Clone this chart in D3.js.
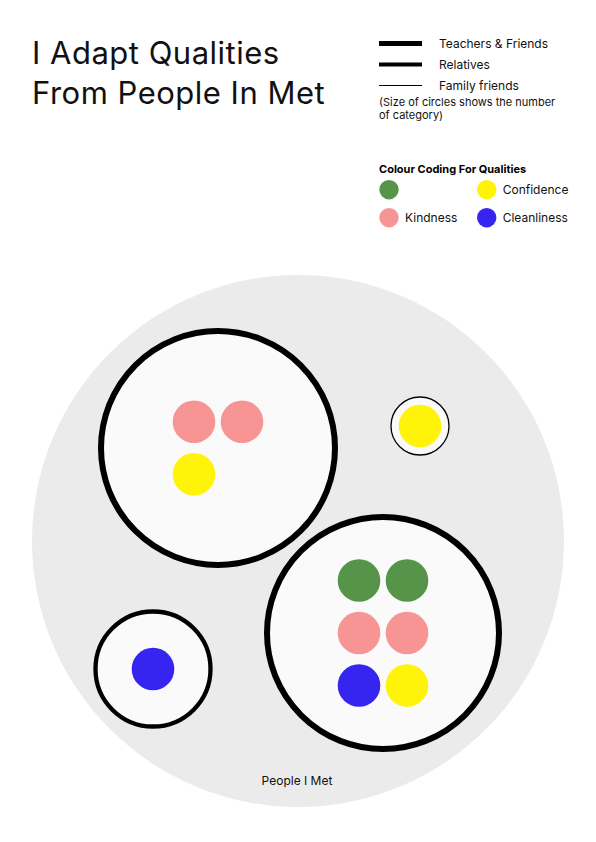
<!DOCTYPE html>
<html>
<head>
<meta charset="utf-8">
<script src="https://cdn.jsdelivr.net/npm/d3@7"></script>
<style>
  html, body { margin: 0; padding: 0; background: #ffffff; }
  svg { display: block; font-family: Inter, "Noto Sans", sans-serif; }
</style>
</head>
<body>
<svg id="chart" width="596" height="842"></svg>
<script>
// ---------- DATA ----------
const titleLines = ["I Adapt Qualities", "From People In Met"];
const categories = ["Teachers & Friends", "Relatives", "Family friends"];
const qualities = ["Unlabelled", "Confidence", "Kindness", "Cleanliness"];
const qualityLabels = ["", "Confidence", "Kindness", "Cleanliness"];
const groupCategory = ["Teachers & Friends", "Teachers & Friends", "Family friends", "Relatives"];
const groupQualities = [
  ["Kindness", "Kindness", "Confidence"],
  ["Unlabelled", "Unlabelled", "Kindness", "Kindness", "Cleanliness", "Confidence"],
  ["Confidence"],
  ["Cleanliness"]
];
const noteLines = ["(Size of circles shows the number", "of category)"];
const colourTitle = "Colour Coding For Qualities";
const outerLabel = "People I Met";

// ---------- LAYOUT / STYLE (kept separate from data) ----------
const outer = { cx: 298, cy: 541, r: 266 };
const groupPos = [[-80, -93], [85, 92], [122, -115], [-145, 128]];
const groupR = [117, 116, 29, 57.5];
const catStroke = d3.scaleOrdinal().domain(categories).range([6, 4.3, 1.3]);
const legendStroke = d3.scaleOrdinal().domain(categories).range([5, 4, 1]);
const colour = d3.scaleOrdinal().domain(qualities)
  .range(["#559449", "#fff30a", "#f79595", "#3624f0"]);

const svg = d3.select("#chart");
const x = d3.scaleLinear().domain([-outer.r, outer.r]).range([outer.cx - outer.r, outer.cx + outer.r]);
const y = d3.scaleLinear().domain([-outer.r, outer.r]).range([outer.cy - outer.r, outer.cy + outer.r]);
const rs = d3.scaleLinear().domain([0, outer.r]).range([0, outer.r]);

// Title
svg.append("g").selectAll("text").data(titleLines).join("text")
  .attr("x", 32).attr("y", (d, i) => 64 + i * 40)
  .attr("font-size", 31).attr("font-weight", 400).attr("letter-spacing", 0.5).attr("fill", "#111")
  .text(d => d);

// Line legend
const lg = svg.append("g");
categories.forEach((c, i) => {
  const yy = 43.5 + i * 21;
  lg.append("line").attr("x1", 379).attr("x2", 422).attr("y1", yy).attr("y2", yy)
    .attr("stroke", "#000").attr("stroke-width", legendStroke(c));
  lg.append("text").attr("x", 439).attr("y", yy + 4).attr("font-size", 12).attr("fill", "#111").text(c);
});
lg.selectAll("text.note").data(noteLines).join("text").attr("class", "note")
  .attr("x", 379).attr("y", (d, i) => 106 + i * 12.5)
  .attr("font-size", 11).attr("fill", "#111").text(d => d);

// Colour legend
const cg = svg.append("g");
cg.append("text").attr("x", 379).attr("y", 173).attr("font-size", 11).attr("font-weight", 700)
  .attr("fill", "#000").text(colourTitle);
const legendOrder = ["Unlabelled", "Confidence", "Kindness", "Cleanliness"];
legendOrder.forEach((q, i) => {
  const col = i % 2, row = Math.floor(i / 2);
  const cx = 389 + col * 97.7, cy = 189.7 + row * 28;
  cg.append("circle").attr("cx", cx).attr("cy", cy).attr("r", 9.7).attr("fill", colour(q));
  cg.append("text").attr("x", cx + 16).attr("y", cy + 4.3).attr("font-size", 12).attr("fill", "#111")
    .text(qualityLabels[qualities.indexOf(q)]);
});

// Outer circle
svg.append("circle").attr("cx", x(0)).attr("cy", y(0)).attr("r", rs(outer.r)).attr("fill", "#ebebeb");
svg.append("text").attr("x", x(0) - 1).attr("y", y(244)).attr("text-anchor", "middle")
  .attr("font-size", 12).attr("fill", "#111").text(outerLabel);

// Groups
const groups = groupQualities.map((qs, i) => ({
  qs, cat: groupCategory[i], px: groupPos[i][0], py: groupPos[i][1], r: groupR[i]
}));
const g = svg.append("g").selectAll("g").data(groups).join("g");
g.append("circle")
  .attr("cx", d => x(d.px)).attr("cy", d => y(d.py)).attr("r", d => rs(d.r))
  .attr("fill", "#fafafa").attr("stroke", "#000").attr("stroke-width", d => catStroke(d.cat));

const dotR = 21.3, dx = 24, dy = 52.5;
g.each(function(d) {
  const n = d.qs.length;
  const cols = n > 1 ? 2 : 1;
  const rows = Math.ceil(n / cols);
  d3.select(this).selectAll("circle.dot").data(d.qs).join("circle").attr("class", "dot")
    .attr("cx", (q, i) => x(d.px + (cols === 1 ? 0 : (i % cols === 0 ? -dx : dx))))
    .attr("cy", (q, i) => y(d.py + (Math.floor(i / cols) - (rows - 1) / 2) * dy))
    .attr("r", dotR)
    .attr("fill", q => colour(q));
});
</script>
</body>
</html>
